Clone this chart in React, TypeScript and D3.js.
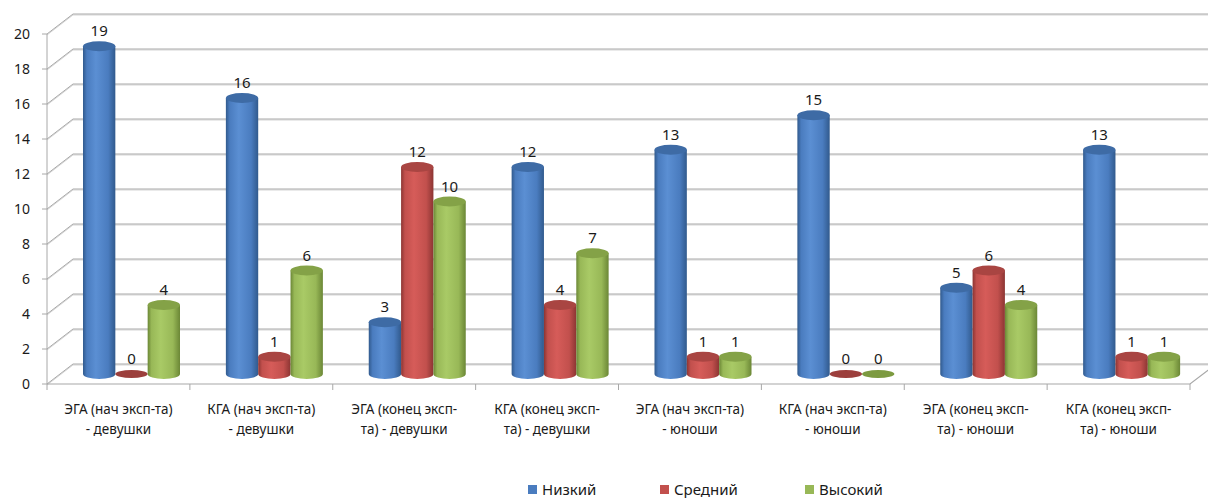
import React from "react";
import * as d3 from "d3";

// Groups along the category axis (two-line labels)
const categories: string[][] = [
  ["ЭГА (нач эксп-та)", "- девушки"],
  ["КГА (нач эксп-та)", "- девушки"],
  ["ЭГА (конец эксп-", "та) - девушки"],
  ["КГА (конец эксп-", "та) - девушки"],
  ["ЭГА (нач эксп-та)", "- юноши"],
  ["КГА (нач эксп-та)", "- юноши"],
  ["ЭГА (конец эксп-", "та) - юноши"],
  ["КГА (конец эксп-", "та) - юноши"],
];

const seriesNames = ["Низкий", "Средний", "Высокий"];

const low = [19, 16, 3, 12, 13, 15, 5, 13];
const medium = [0, 1, 12, 4, 1, 0, 6, 1];
const high = [4, 6, 10, 7, 1, 0, 4, 1];

const yTicks = [0, 2, 4, 6, 8, 10, 12, 14, 16, 18, 20];

const seriesValues = [low, medium, high];

// Cylinder shading per series: edge, light, mid, top cap, flat (zero) cap
const palette = [
  { edge: "#315a8d", light: "#5b8fd3", mid: "#4a7cbf", top: "#3e6ba5", flat: "#3a659c" },
  { edge: "#8c3533", light: "#d65c59", mid: "#c2504d", top: "#a94542", flat: "#9c3f3c" },
  { edge: "#6b8736", light: "#a9ca66", mid: "#98b857", top: "#84a247", flat: "#7c9a40" },
];

const W = 1208;
const H = 498;
const DX = 26; // depth offset of the back wall
const DY = -20;

export default function App() {
  const xCat = d3
    .scaleBand<number>()
    .domain(d3.range(categories.length))
    .range([47, 1190])
    .padding(0);

  const yFront = d3.scaleLinear().domain([0, 20]).range([384, 34]);
  // bars stand at mid-depth of the plot box
  const yBar = d3.scaleLinear().domain([0, 20]).range([374, 29]);

  const xSeries = d3
    .scaleBand<number>()
    .domain(d3.range(seriesNames.length))
    .range([0, 97])
    .padding(0);

  const bw = xSeries.bandwidth();
  const rx = bw / 2;
  const ry = 5;
  const groupOffset = 36;

  const gridColor = "#a8a8a8";
  const gridLight = "#d6d6d6";
  const font = "'Noto Sans', 'Open Sans', sans-serif";
  const textColor = "#1a1a1a";

  const bars: { x: number; v: number; s: number; c: number }[] = [];
  categories.forEach((_, c) => {
    seriesValues.forEach((vals, s) => {
      bars.push({
        x: (xCat(c) as number) + groupOffset + (xSeries(s) as number),
        v: vals[c],
        s,
        c,
      });
    });
  });

  return (
    <svg
      width={W}
      height={H}
      style={{ position: "absolute", left: 0, top: 0, background: "#fff" }}
    >
      <defs>
        {palette.map((p, i) => (
          <linearGradient key={i} id={`cyl${i}`} x1="0" x2="1" y1="0" y2="0">
            <stop offset="0%" stopColor={p.edge} />
            <stop offset="12%" stopColor={p.mid} />
            <stop offset="40%" stopColor={p.light} />
            <stop offset="78%" stopColor={p.mid} />
            <stop offset="100%" stopColor={p.edge} />
          </linearGradient>
        ))}
      </defs>

      {/* back-wall gridlines with their side-wall diagonal */}
      {yTicks.map((t) => {
        const y = yFront(t);
        return (
          <g key={t}>
            <path
              d={`M47,${y + 1}L${47 + DX},${y + DY + 1}L${W + 20},${y + DY + 1}`}
              fill="none"
              stroke={gridLight}
              strokeWidth={1}
            />
            <path
              d={`M47,${y}L${47 + DX},${y + DY}L${W + 20},${y + DY}`}
              fill="none"
              stroke={gridColor}
              strokeWidth={1}
            />
            <line x1={42} x2={47} y1={y} y2={y} stroke={gridColor} />
            <text
              x={30}
              y={y + 5}
              textAnchor="end"
              fontFamily={font}
              fontSize={14}
              fill={textColor}
            >
              {t}
            </text>
          </g>
        );
      })}

      {/* front value axis */}
      <line x1={47} x2={47} y1={yFront(20)} y2={yFront(0)} stroke={gridColor} />

      {/* floor front edge and right edge */}
      <path
        d={`M47,${yFront(0)}L1190,${yFront(0)}L${1190 + DX},${yFront(0) + DY}`}
        fill="none"
        stroke={gridColor}
        strokeWidth={1.2}
      />

      {/* category ticks */}
      {d3.range(categories.length + 1).map((i) => {
        const x = i < categories.length ? (xCat(i) as number) : 1190;
        return (
          <line
            key={i}
            x1={x}
            x2={x}
            y1={yFront(0)}
            y2={yFront(0) + 6}
            stroke={gridColor}
          />
        );
      })}

      {/* cylinders */}
      {bars.map((b, i) => {
        const p = palette[b.s];
        const cx = b.x + rx;
        const yb = yBar(0);
        if (b.v === 0) {
          return (
            <ellipse key={i} cx={cx} cy={yb} rx={rx} ry={4} fill={p.flat} />
          );
        }
        const yt = yBar(b.v);
        const body = `M${b.x},${yt}L${b.x},${yb}A${rx},${ry} 0 0 0 ${b.x + bw},${yb}L${b.x + bw},${yt}Z`;
        return (
          <g key={i}>
            <path d={body} fill={`url(#cyl${b.s})`} />
            <ellipse cx={cx} cy={yt} rx={rx} ry={ry} fill={p.top} />
          </g>
        );
      })}

      {/* value labels */}
      {bars.map((b, i) => (
        <text
          key={i}
          x={b.x + rx}
          y={yBar(b.v) - 10}
          textAnchor="middle"
          fontFamily={font}
          fontSize={15}
          fill={textColor}
        >
          {b.v}
        </text>
      ))}

      {/* category labels */}
      {categories.map((lines, c) => {
        const cx = (xCat(c) as number) + xCat.bandwidth() / 2;
        return (
          <text
            key={c}
            x={cx}
            textAnchor="middle"
            fontFamily={font}
            fontSize={13.5}
            fill={textColor}
          >
            {lines.map((l, k) => (
              <tspan key={k} x={cx} y={414 + k * 20}>
                {l}
              </tspan>
            ))}
          </text>
        );
      })}

      {/* legend */}
      {seriesNames.map((name, i) => {
        const lx = [528, 660, 805][i];
        return (
          <g key={name}>
            <rect x={lx} y={485} width={9} height={9} fill={palette[i].mid} />
            <text x={lx + 14} y={495} fontFamily={font} fontSize={15} fill={textColor}>
              {name}
            </text>
          </g>
        );
      })}
    </svg>
  );
}
